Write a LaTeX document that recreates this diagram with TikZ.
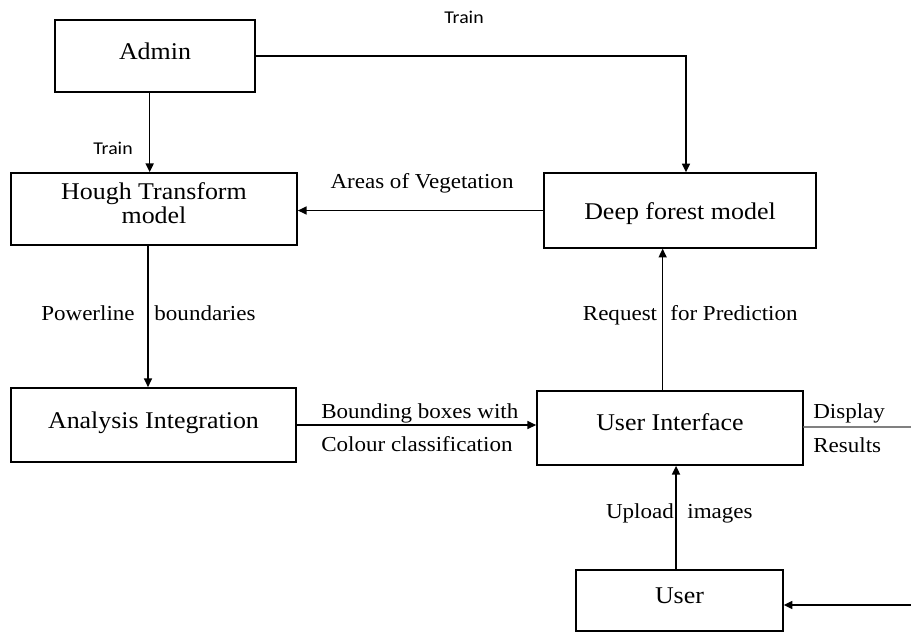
\documentclass[tikz,border=0pt]{standalone}
\usepackage{fontspec}
\setmainfont{Liberation Serif}[FakeStretch=1.08]
\newfontfamily\trainfont{Carlito}[FakeStretch=1.1]
\usetikzlibrary{arrows.meta}
\newcommand\lift[2]{\raisebox{#1}[\height][\depth]{#2}}
\begin{document}
\begin{tikzpicture}[x=0.75pt,y=-0.75pt,line cap=round,
    box/.style={draw,line width=1.3pt,minimum width=#1,inner sep=0pt,align=center,
      font=\fontsize{18}{18}\selectfont},
    arr/.style={line width=1.1pt,-{Triangle[length=6.5pt,width=6pt]}},
    lbl/.style={inner sep=0pt,text height=10.5pt,text depth=3pt,
      font=\fontsize{16}{17}\selectfont},
    trn/.style={inner sep=0pt,font=\trainfont\fontsize{13.5}{14}\selectfont}]
    \useasboundingbox (0,0) rectangle (911,633);
    % boxes
    \node[box=150pt,minimum height=54pt] (admin) at (155,56) {\lift{3.75pt}{Admin}};
    \node[box=214.5pt,minimum height=54pt] (hough) at (154,209)
      {\lift{1.5pt}{\begin{tabular}{@{}c@{}}Hough Transform\\model\end{tabular}}};
    \node[box=204pt,minimum height=56pt] (deep) at (680,210.5) {\lift{-2pt}{Deep forest model}};
    \node[box=213.75pt,minimum height=55.5pt] (integ) at (153.5,425) {\lift{1.5pt}{Analysis Integration}};
    \node[box=199.5pt,minimum height=55.5pt] (ui) at (670,428) {\lift{4.5pt}{User Interface}};
    \node[box=155pt,minimum height=45.75pt] (user) at (679.5,600.5) {\lift{3.75pt}{User}};
    \coordinate (disp) at (911,427);
    \coordinate (outer) at (911,605);
    % connectors
    \draw[arr] (admin.east) -| ([xshift=4.5pt]deep.north);
    \draw[arr] ([xshift=-4pt]admin.south) -- ([xshift=-4pt]admin.south |- hough.north);
    \draw[arr] (deep.west) -- (deep.west -| hough.east);
    \draw[arr] ([xshift=-4.5pt]hough.south) -- ([xshift=-4.5pt]hough.south |- integ.north);
    \draw[arr] (integ.east) -- (integ.east -| ui.west);
    \draw[arr] ([xshift=-5.5pt]ui.north) -- ([xshift=-5.5pt]ui.north |- deep.south);
    \draw[arr] ([xshift=-2.6pt]user.north) -- ([xshift=-2.6pt]user.north |- ui.south);
    \draw[line width=1pt,gray] (ui.east |- disp) -- (disp);
    \draw[arr] (outer) -- (outer -| user.east);
    % labels
    \node[trn] (ttop) at (464,17) {Train};
    \node[trn] (tleft) at (113,148) {Train};
    \node[lbl] (veg) at (422,183) {Areas of Vegetation};
    \node[lbl] (pw) at (88,315) {Powerline};
    \node[lbl] (bd) at (205,315) {boundaries};
    \node[lbl] (rq) at (620,315) {Request};
    \node[lbl] (pr) at (734,315) {for Prediction};
    \node[lbl,anchor=west] (bb) at (321,413) {Bounding boxes with};
    \node[lbl,anchor=west] (cc) at (321,446) {Colour classification};
    \node[lbl,anchor=west] (dp) at (813,413) {Display};
    \node[lbl,anchor=west] (rs) at (813,447) {Results};
    \node[lbl] (up) at (640,513) {Upload};
    \node[lbl] (im) at (720,513) {images};
\end{tikzpicture}
\end{document}
